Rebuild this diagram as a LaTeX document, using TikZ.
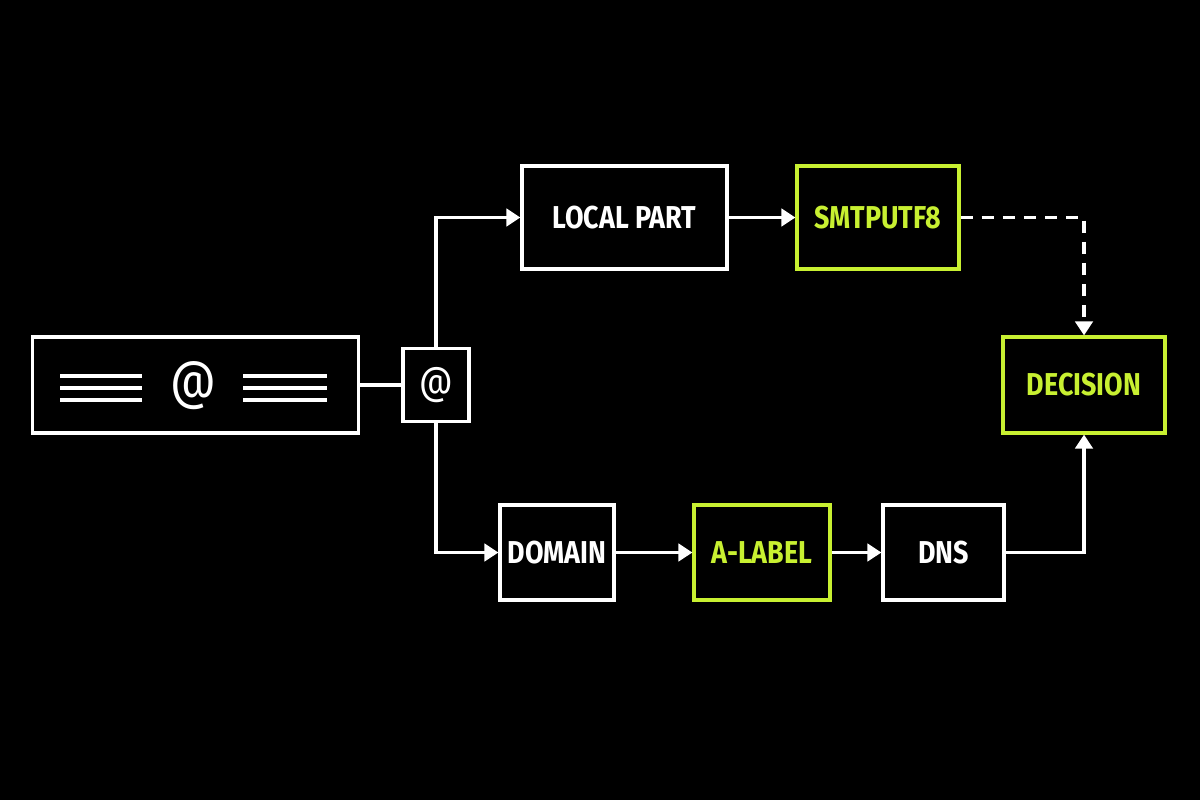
\documentclass[tikz,border=0pt]{standalone}
\usepackage{fontspec}
\setmainfont{Fira Sans}[FakeStretch=0.85]
\usetikzlibrary{arrows.meta}
\definecolor{lime}{HTML}{C8F031}
\begin{document}
\begin{tikzpicture}[x=0.01cm,y=-0.01cm,
  box/.style={draw=white,line width=0.9pt,text=white,font=\fontsize{9}{11}\selectfont\bfseries,inner sep=0pt},
  gbox/.style={box,draw=lime,text=lime},
  conn/.style={draw=white,line width=0.9pt},
  arr/.style={conn,-{Triangle[length=4pt,width=5pt]}}]
\fill[black] (0,0) rectangle (1200,800);
\useasboundingbox (0,0) rectangle (1200,800);
\node[box,minimum width=3.25cm,minimum height=0.96cm] (email) at (195.5,385) {};
\foreach \y in {376,388,400}{
  \draw[conn] (60,\y) -- (142,\y);
  \draw[conn] (243,\y) -- (327,\y);}
\node[text=white,font=\fontsize{15}{18}\selectfont\mdseries] (emat) at (193,386) {@};
\node[box,minimum width=0.66cm,minimum height=0.73cm,font=\fontsize{11}{14}\selectfont\mdseries] (at) at (436,385) {@};
\node[box,minimum width=2.05cm,minimum height=1.03cm] (local) at (624.5,217.5) {LOCAL PART};
\node[gbox,minimum width=1.62cm,minimum height=1.03cm] (smtp) at (878,217.5) {SMTPUTF8};
\node[gbox,minimum width=1.62cm,minimum height=0.96cm] (dec) at (1084,385) {DECISION};
\node[box,minimum width=1.14cm,minimum height=0.95cm] (dom) at (557,552.5) {DOMAIN};
\node[gbox,minimum width=1.36cm,minimum height=0.95cm] (alab) at (762,552.5) {A-LABEL};
\node[box,minimum width=1.21cm,minimum height=0.95cm] (dns) at (943.5,552.5) {DNS};
\draw[conn] (email.east) -- (at.west);
\draw[arr] (at.north) |- (local.west);
\draw[arr] (at.south) |- (dom.west);
\draw[arr] (local.east) -- (smtp.west);
\draw[arr] (dom.east) -- (alab.west);
\draw[arr] (alab.east) -- (dns.west);
\draw[arr,dash pattern=on 3.5pt off 2.5pt] (smtp.east) -| (dec.north);
\draw[arr] (dns.east) -| (dec.south);
\end{tikzpicture}
\end{document}
